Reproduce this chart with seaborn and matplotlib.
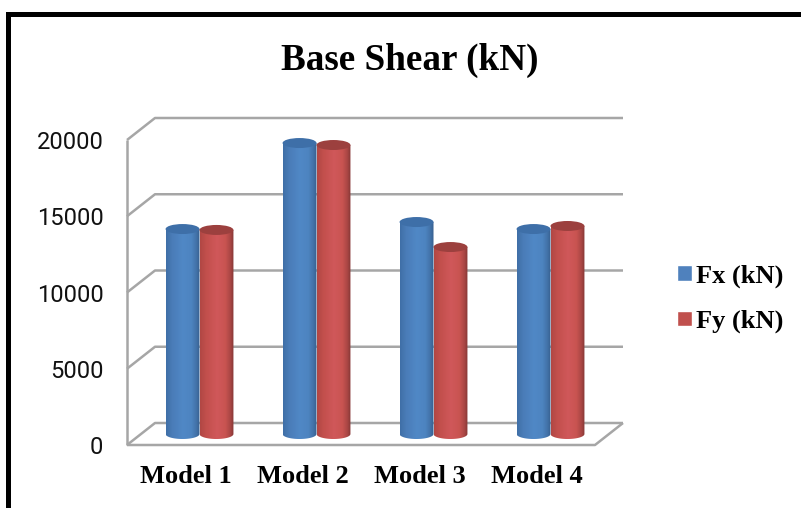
import numpy as np
import pandas as pd
import matplotlib
matplotlib.use("Agg")
import matplotlib.pyplot as plt
import seaborn as sns
from matplotlib.colors import LinearSegmentedColormap
from matplotlib.patches import Ellipse, Rectangle
from matplotlib.path import Path

models = ["Model 1", "Model 2", "Model 3", "Model 4"]
fx_values = [13440, 19080, 13900, 13440]
fy_values = [13380, 18950, 12260, 13640]
series_names = ["Fx (kN)", "Fy (kN)"]
y_ticks = [0, 5000, 10000, 15000, 20000]
title_text = "Base Shear (kN)"

W, H = 801, 508
sns.set_theme(style="white")
plt.rcParams["font.family"] = ["Liberation Serif", "DejaVu Sans"]

df = pd.DataFrame({
    "model": models * 2,
    "value": fx_values + fy_values,
    "series": [series_names[0]] * 4 + [series_names[1]] * 4,
})

fig = plt.figure(figsize=(W / 100, H / 100), dpi=100, facecolor="white")
L, R, T, B = 127, 595, 140, 445
ax = fig.add_axes([L / W, 1 - B / H, (R - L) / W, (B - T) / H])

main_colors = {series_names[0]: "#4f81bd", series_names[1]: "#c0504d"}
sns.barplot(data=df, x="model", y="value", hue="series", palette=main_colors,
            width=0.58, gap=0, saturation=1, dodge=True, ax=ax)
handles, labels = ax.get_legend_handles_labels()
ax.get_legend().remove()

ax.set_xlim(-0.5, 3.5)
ax.set_ylim(0, 20000)
ax.set_xlabel("")
ax.set_ylabel("")
sns.despine(ax=ax, left=True, bottom=True)
ax.patch.set_alpha(0)

# depth of the pseudo-3D box, converted to data units
px_x = 4 / (R - L)
px_y = 20000 / (B - T)
dx, dy = 28 * px_x, 22 * px_y
x0, x1 = ax.get_xlim()
grid_c = "#a6a6a6"
line_kw = dict(color=grid_c, lw=1.8, clip_on=False, zorder=1, solid_capstyle="butt")
for t in y_ticks:
    ax.plot([x0, x0 + dx, x1 + dx], [t, t + dy, t + dy], **line_kw)
ax.plot([x0, x0], [0, 20000], **line_kw)
ax.plot([x0, x1, x1 + dx], [0, 0, dy], **line_kw)

# turn every seaborn bar into a shaded cylinder
ramps = {
    series_names[0]: ([(0, "#3f6fa6"), (0.18, "#4a7cb8"), (0.5, "#5088c6"),
                       (0.75, "#4d84c0"), (0.9, "#4272a8"), (1, "#375f8e")], "#3e6fa8"),
    series_names[1]: ([(0, "#b04744"), (0.18, "#c24f4c"), (0.5, "#d0585a"),
                       (0.75, "#c95451"), (0.9, "#a94644"), (1, "#843634")], "#9c403e"),
}
ell_h = 10 * px_y
z = 3
for name, container in zip(series_names, ax.containers):
    stops, top_color = ramps[name]
    cmap = LinearSegmentedColormap.from_list(name, stops)
    for bar in container:
        xl, w, v = bar.get_x(), bar.get_width(), bar.get_height()
        xl += dx / 2
        base = dy / 2
        bar.set_x(xl)
        bar.set_y(base)
        bar.set_visible(False)
        xc = xl + w / 2
        theta = np.linspace(np.pi, 2 * np.pi, 60)
        verts = np.column_stack([xc + w / 2 * np.cos(theta),
                                 base + ell_h / 2 * np.sin(theta)])
        verts = np.vstack([[xl, base + v], verts, [xl + w, base + v], [xl, base + v]])
        clip = Path(verts)
        img = ax.imshow(np.linspace(0, 1, 128).reshape(1, -1), cmap=cmap, aspect="auto",
                        extent=(xl, xl + w, base - ell_h, base + v), zorder=z,
                        interpolation="bilinear")
        img.set_clip_path(clip, ax.transData)
        ax.add_patch(Ellipse((xc, base + v), w, ell_h, facecolor=top_color,
                             edgecolor="none", zorder=z + 0.5, clip_on=False))
        z += 1
ax.set_xlim(x0, x1)
ax.set_ylim(0, 20000)

ax.set_yticks(y_ticks)
ax.set_yticklabels([str(t) for t in y_ticks], family="Roboto", fontsize=17, color="#111111")
ax.set_xticks(range(len(models)))
ax.set_xticklabels(models, fontsize=19, fontweight="bold", color="black")
ax.tick_params(axis="y", length=0, pad=17)
ax.tick_params(axis="x", length=0, pad=14.5)

fig.text(410 / W, 1 - 60 / H, title_text, ha="center", va="center",
         fontsize=26.7, fontweight="bold", color="black")

fig.legend(handles, labels, loc="center left", bbox_to_anchor=(664 / W, 1 - 299 / H),
           frameon=False, prop={"size": 19, "weight": "bold"},
           handlelength=0.55, handleheight=0.55, handletextpad=0.15, labelspacing=0.82,
           borderpad=0, labelcolor="black")

# outer frame: only the left and top edges fall inside the crop
fig.add_artist(Rectangle((6 / W, 0), 5 / W, 1 - 12 / H, transform=fig.transFigure,
                         facecolor="black", edgecolor="none"))
fig.add_artist(Rectangle((6 / W, 1 - 17 / H), 1 - 6 / W, 5 / H, transform=fig.transFigure,
                         facecolor="black", edgecolor="none"))

fig.savefig("out.png", dpi=100, facecolor="white")
